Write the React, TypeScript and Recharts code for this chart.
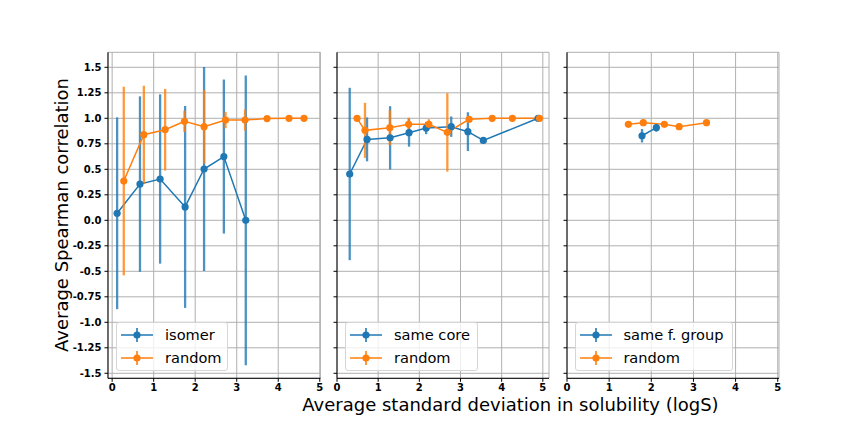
import React from 'react';
import { ComposedChart, Line, XAxis, YAxis, CartesianGrid, ErrorBar } from 'recharts';

const BLUE = '#1f77b4';
const ORANGE = '#ff7f0e';
const FONT = '"DejaVu Sans", sans-serif';

// y ticks shared by all three panels
const yTicks = [1.5, 1.25, 1.0, 0.75, 0.5, 0.25, 0.0, -0.25, -0.5, -0.75, -1.0, -1.25, -1.5];
const yTickLabels = ['1.5', '1.25', '1.0', '0.75', '0.5', '0.25', '0.0', '-0.25', '-0.5', '-0.75', '-1.0', '-1.25', '-1.5'];
const xTicks = [0, 1, 2, 3, 4, 5];

// panel 1: isomer vs random
const isomerX = [0.12, 0.67, 1.155, 1.757, 2.214, 2.69, 3.218];
const isomerY = [0.069, 0.355, 0.405, 0.131, 0.503, 0.625, 0.0];
const isomerErr = [0.94, 0.86, 0.83, 0.99, 1.0, 0.755, 1.42];

const random1X = [0.28, 0.763, 1.276, 1.742, 2.214, 2.73, 3.2, 3.73, 4.26, 4.62];
const random1Y = [0.385, 0.839, 0.888, 0.97, 0.918, 0.983, 0.983, 0.997, 1.0, 1.0];
const random1Err = [0.925, 0.48, 0.4, 0.105, 0.36, 0.08, 0.105, 0, 0, 0];

// panel 2: same core vs random
const coreX = [0.309, 0.73, 1.29, 1.75, 2.166, 2.775, 3.18, 3.555, 4.886];
const coreY = [0.454, 0.793, 0.809, 0.859, 0.904, 0.918, 0.869, 0.783, 1.0];
const coreErr = [0.845, 0.215, 0.31, 0.137, 0.06, 0.1, 0.19, 0, 0];

const random2X = [0.487, 0.68, 1.283, 1.74, 2.23, 2.68, 3.21, 3.77, 4.26, 4.92];
const random2Y = [1.0, 0.882, 0.908, 0.941, 0.941, 0.862, 0.99, 1.0, 1.0, 1.0];
const random2Err = [0, 0.27, 0.17, 0.065, 0.05, 0.385, 0, 0, 0, 0];

// panel 3: same f. group vs random
const groupX = [1.78, 2.12];
const groupY = [0.829, 0.908];
const groupErr = [0.066, 0.04];

const random3X = [1.456, 1.81, 2.31, 2.66, 3.31];
const random3Y = [0.941, 0.957, 0.941, 0.918, 0.957];
const random3Err = [0, 0, 0.02, 0.03, 0];

const zip = (xs: number[], ys: number[], errs: number[]) =>
  xs.map((x, i) => ({ x, y: ys[i], err: errs[i] }));

const Y_DOMAIN: [number, number] = [-1.549, 1.647];
const PLOT_TOP = 52.3;
const PLOT_BOTTOM = 378.3;
const AXIS_W = 60;
const XAXIS_H = 30;

interface Series {
  name: string;
  color: string;
  data: { x: number; y: number; err: number }[];
}

interface PanelProps {
  left: number;
  width: number;
  xDomain: [number, number];
  series: Series[];
  showYLabels: boolean;
  legendWidth: number;
}

const tickStyle = { fill: '#000', fontSize: 10, fontWeight: 'bold', fontFamily: FONT };

function LegendBox({ left, width, series }: { left: number; width: number; series: Series[] }) {
  return (
    <div
      style={{
        position: 'absolute',
        left,
        top: 322.3,
        width,
        height: 48.7,
        boxSizing: 'border-box',
        border: '1px solid #d6d6d6',
        borderRadius: 3,
        background: 'rgba(255,255,255,0.8)',
        fontFamily: FONT,
        fontSize: 14.6,
        color: '#000',
      }}
    >
      {series.map((s, i) => (
        <div key={s.name} style={{ position: 'absolute', left: 0, top: (i === 0 ? 11.3 : 34.4) - 9, height: 18, width: '100%' }}>
          <svg width={32} height={18} style={{ position: 'absolute', left: 4, top: 0 }}>
            <line x1={0} y1={9} x2={32} y2={9} stroke={s.color} strokeWidth={1.5} />
            <line x1={16} y1={2} x2={16} y2={16} stroke={s.color} strokeWidth={2} strokeOpacity={0.8} />
            <circle cx={16} cy={9} r={3.6} fill={s.color} />
          </svg>
          <span style={{ position: 'absolute', left: 47.7, top: 0, lineHeight: '18px', whiteSpace: 'nowrap' }}>{s.name}</span>
        </div>
      ))}
    </div>
  );
}

function Panel({ left, width, xDomain, series, showYLabels, legendWidth }: PanelProps) {
  return (
    <>
      <div style={{ position: 'absolute', left: left - AXIS_W, top: 0 }}>
        <ComposedChart
          width={AXIS_W + width + 4}
          height={432}
          margin={{ top: PLOT_TOP, right: 4, bottom: 432 - PLOT_BOTTOM - XAXIS_H, left: 0 }}
        >
          <CartesianGrid stroke="#b0b0b0" strokeWidth={1} />
          <XAxis
            dataKey="x"
            type="number"
            domain={xDomain}
            allowDataOverflow
            ticks={xTicks}
            height={XAXIS_H}
            tick={tickStyle}
            tickSize={3.5}
            tickMargin={2}
            tickLine={{ stroke: '#000' }}
            axisLine={{ stroke: '#000' }}
          />
          <XAxis
            xAxisId="top"
            orientation="top"
            type="number"
            domain={xDomain}
            allowDataOverflow
            height={0}
            tick={false}
            tickLine={false}
            axisLine={{ stroke: '#000' }}
          />
          <YAxis
            type="number"
            domain={Y_DOMAIN}
            allowDataOverflow
            ticks={yTicks}
            width={AXIS_W}
            tick={tickStyle}
            tickSize={3.5}
            tickMargin={3}
            tickLine={{ stroke: '#000' }}
            axisLine={{ stroke: '#000' }}
            tickFormatter={(v: number) => (showYLabels ? yTickLabels[yTicks.indexOf(v)] ?? '' : '')}
          />
          <YAxis
            yAxisId="right"
            orientation="right"
            type="number"
            domain={Y_DOMAIN}
            allowDataOverflow
            width={0}
            tick={false}
            tickLine={false}
            axisLine={{ stroke: '#000' }}
          />
          {series.map((s) => (
            <Line
              key={s.name}
              data={s.data}
              dataKey="y"
              name={s.name}
              stroke={s.color}
              strokeWidth={1.5}
              dot={{ r: 3.6, fill: s.color, stroke: s.color, strokeWidth: 0 }}
              activeDot={false}
              isAnimationActive={false}
            >
              <ErrorBar dataKey="err" direction="y" width={0} stroke={s.color} strokeWidth={2.3} strokeOpacity={0.8} />
            </Line>
          ))}
        </ComposedChart>
      </div>
      <LegendBox left={left + 8} width={legendWidth} series={series} />
    </>
  );
}

export default function App() {
  const panel1: Series[] = [
    { name: 'isomer', color: BLUE, data: zip(isomerX, isomerY, isomerErr) },
    { name: 'random', color: ORANGE, data: zip(random1X, random1Y, random1Err) },
  ];
  const panel2: Series[] = [
    { name: 'same core', color: BLUE, data: zip(coreX, coreY, coreErr) },
    { name: 'random', color: ORANGE, data: zip(random2X, random2Y, random2Err) },
  ];
  const panel3: Series[] = [
    { name: 'same f. group', color: BLUE, data: zip(groupX, groupY, groupErr) },
    { name: 'random', color: ORANGE, data: zip(random3X, random3Y, random3Err) },
  ];

  return (
    <div style={{ position: 'absolute', left: 0, top: 0, width: 864, height: 432, background: '#fff', overflow: 'hidden' }}>
      <Panel left={108.3} width={212.4} xDomain={[-0.1, 5.015]} series={panel1} showYLabels legendWidth={111.7} />
      <Panel left={337.3} width={212} xDomain={[0, 5.15]} series={panel2} showYLabels={false} legendWidth={133} />
      <Panel left={566.7} width={212} xDomain={[0, 5.03]} series={panel3} showYLabels={false} legendWidth={158.4} />

      <div
        style={{
          position: 'absolute',
          left: 61,
          top: 215.3,
          transform: 'translate(-50%, -50%) rotate(-90deg)',
          fontFamily: FONT,
          fontSize: 18,
          whiteSpace: 'nowrap',
          color: '#000',
        }}
      >
        Average Spearman correlation
      </div>
      <div
        style={{
          position: 'absolute',
          left: 510.5,
          top: 404,
          transform: 'translate(-50%, -50%)',
          fontFamily: FONT,
          fontSize: 18,
          whiteSpace: 'nowrap',
          color: '#000',
        }}
      >
        Average standard deviation in solubility (logS)
      </div>
    </div>
  );
}
